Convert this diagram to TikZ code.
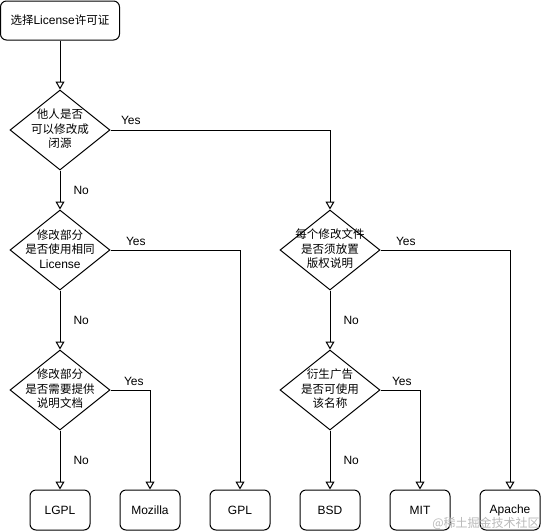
\documentclass[tikz,border=0pt]{standalone}
\usepackage{fontspec}
\setmainfont{Liberation Sans}
\newfontfamily\cjk{Noto Sans CJK SC}[Scale=0.96]
\usetikzlibrary{shapes.geometric,arrows.meta}
\begin{document}
\begin{tikzpicture}[x=1pt,y=-1pt, line width=1pt,
 box/.style={draw, rounded corners=6pt, minimum width=60pt, minimum height=40pt, inner sep=0pt, font=\fontsize{12}{14}\selectfont},
 dec/.style={draw, diamond, minimum width=100pt, minimum height=80pt, inner sep=0pt},
 txt/.style={align=center, font=\fontsize{12}{14.5}\selectfont, inner sep=0pt},
 lbl/.style={font=\fontsize{12}{14}\selectfont, inner sep=0pt},
 arr/.style={-{Triangle[open,length=8pt,width=9pt]}}]
\useasboundingbox (0,0) rectangle (541,531);

\node[box, minimum width=119pt, minimum height=39pt] (start) at (60,20.5) {{\cjk 选择}License{\cjk 许可证}};

\node[dec] (d1) at (60,130) {};
\node[txt] (t1) at (60,129) {{\cjk 他人是否}\\{\cjk 可以修改成}\\{\cjk 闭源}};
\node[dec] (d2) at (60,250) {};
\node[txt] (t2) at (60,249) {{\cjk 修改部分}\\{\cjk 是否使用相同}\\License};
\node[dec] (d4) at (60,390) {};
\node[txt] (t4) at (60,389) {{\cjk 修改部分}\\{\cjk 是否需要提供}\\{\cjk 说明文档}};
\node[dec] (d3) at (330,250) {};
\node[txt] (t3) at (330,249) {{\cjk 每个修改文件}\\{\cjk 是否须放置}\\{\cjk 版权说明}};
\node[dec] (d5) at (330,390) {};
\node[txt] (t5) at (330,389) {{\cjk 衍生广告}\\{\cjk 是否可使用}\\{\cjk 该名称}};

\node[box] (lgpl) at (60,510) {LGPL};
\node[box] (moz) at (150,510) {Mozilla};
\node[box] (gpl) at (240,510) {GPL};
\node[box] (bsd) at (330,510) {BSD};
\node[box] (mit) at (420,510) {MIT};
\node[box] (apache) at (510,510) {Apache};

\draw[arr] (start) -- (d1);
\draw[arr] (d1) -- node[lbl, right=13pt] {No} (d2);
\draw[arr] (d2) -- node[lbl, right=13pt] {No} (d4);
\draw[arr] (d4) -- node[lbl, right=13pt] {No} (lgpl);
\draw[arr] (d3) -- node[lbl, right=13pt] {No} (d5);
\draw[arr] (d5) -- node[lbl, right=13pt] {No} (bsd);

\draw[arr] (d1.east) -| node[lbl, pos=0, anchor=base west, xshift=10pt, yshift=5.5pt] {Yes} (d3.north);
\draw[arr] (d2.east) -| node[lbl, pos=0, anchor=base west, xshift=15pt, yshift=5pt] {Yes} (gpl.north);
\draw[arr] (d4.east) -| node[lbl, pos=0, anchor=base west, xshift=13pt, yshift=5pt] {Yes} (moz.north);
\draw[arr] (d3.east) -| node[lbl, pos=0, anchor=base west, xshift=15pt, yshift=5pt] {Yes} (apache.north);
\draw[arr] (d5.east) -| node[lbl, pos=0, anchor=base west, xshift=11pt, yshift=5pt] {Yes} (mit.north);

\node[font=\cjk\fontsize{12.5}{14}\selectfont, text=gray!55, inner sep=0pt] (wm) at (486,523) {@稀土掘金技术社区};
\end{tikzpicture}
\end{document}
